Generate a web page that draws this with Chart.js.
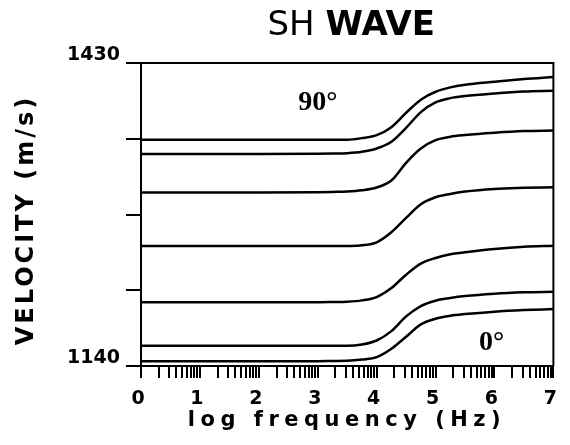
<!DOCTYPE html>
<html>
<head>
<meta charset="utf-8">
<title>SH WAVE</title>
<script src="https://cdn.jsdelivr.net/npm/chart.js@4.4.1/dist/chart.umd.min.js"></script>
<style>
  html, body { margin: 0; padding: 0; background: #fff; }
  #wrap { width: 570px; height: 445px; }
</style>
</head>
<body>
<div id="wrap"><canvas id="c" width="570" height="445"></canvas></div>
<script>
// log10 of frequency (Hz) at which each curve is sampled
const logFreq = [0, 1, 2, 3, 3.25, 3.5, 3.75, 4, 4.25, 4.5, 4.75, 5, 5.25, 5.5, 6, 6.5, 7];

// SH-wave velocity (m/s), from the 90° direction (top) down to 0° (bottom)
const vel90 = [1356.5, 1356.5, 1356.5, 1356.5, 1356.5, 1356.5, 1358.1, 1361.0, 1368.6, 1382.4, 1394.9, 1402.5, 1406.7, 1409.2, 1412.1, 1414.7, 1416.6];
const vel75 = [1343.0, 1343.0, 1343.0, 1343.2, 1343.4, 1343.7, 1345.0, 1348.2, 1354.6, 1368.0, 1383.0, 1392.3, 1396.4, 1398.4, 1400.9, 1402.8, 1403.5];
const vel60 = [1306.0, 1306.0, 1306.0, 1306.3, 1306.6, 1307.0, 1308.2, 1310.8, 1317.5, 1334.5, 1348.2, 1356.2, 1359.4, 1361.0, 1363.2, 1364.8, 1365.4];
const vel45 = [1254.8, 1254.8, 1254.8, 1254.8, 1254.8, 1254.9, 1255.5, 1258.4, 1268.0, 1281.7, 1294.8, 1301.5, 1304.7, 1307.0, 1309.5, 1310.5, 1311.1];
const vel30 = [1201.0, 1201.0, 1201.0, 1201.0, 1201.2, 1201.5, 1202.8, 1206.0, 1214.6, 1227.4, 1238.0, 1243.4, 1246.9, 1248.8, 1252.0, 1254.2, 1255.2];
const vel15 = [1159.4, 1159.4, 1159.4, 1159.4, 1159.4, 1159.4, 1160.6, 1164.4, 1173.4, 1187.5, 1197.4, 1202.5, 1205.0, 1206.9, 1209.2, 1210.5, 1211.1];
const vel0  = [1144.5, 1144.5, 1144.5, 1144.6, 1144.8, 1145.0, 1146.2, 1148.5, 1156.5, 1168.0, 1179.8, 1185.2, 1188.1, 1189.7, 1192.0, 1193.5, 1194.5];

const velocitySeries = [vel90, vel75, vel60, vel45, vel30, vel15, vel0];

// axis ticks
const decadeLabels = ['0', '1', '2', '3', '4', '5', '6', '7'];
const minorMultipliers = [2, 3, 4, 5, 6, 7, 8, 9];
const yTickValues = [1140, 1212.5, 1285, 1357.5, 1430];
const yTickLabels = ['1140', '', '', '', '1430'];

// angle annotations: [log f, velocity, text]
const angleNotes = [[3.0, 1392, '90°'], [5.95, 1162, '0°']];

const titleParts = ['SH ', 'WAVE'];
const yTitle = 'VELOCITY (m/s)';
const xTitle = 'log frequency (Hz)';

const datasets = velocitySeries.map(vals => ({
  data: logFreq.map((x, i) => ({ x: x, y: vals[i] })),
  borderColor: '#000',
  borderWidth: 2.5,
  pointRadius: 0,
  fill: false,
  cubicInterpolationMode: 'monotone'
}));

// frame, titles and angle labels
const decor = {
  id: 'decor',
  afterDraw(chart) {
    const ctx = chart.ctx;
    const a = chart.chartArea;
    const xs = chart.scales.x, ys = chart.scales.y;
    ctx.save();
    ctx.strokeStyle = '#000';
    ctx.lineWidth = 2;
    ctx.beginPath();
    ctx.moveTo(a.left, a.top);
    ctx.lineTo(a.right, a.top);
    ctx.lineTo(a.right, a.bottom);
    ctx.stroke();

    ctx.fillStyle = '#000';
    // title: "SH" light, "WAVE" bold
    ctx.textBaseline = 'alphabetic';
    ctx.textAlign = 'left';
    const f1 = '34px "DejaVu Sans"';
    const f2 = 'bold 34px "DejaVu Sans"';
    ctx.font = f1;
    const w1 = ctx.measureText(titleParts[0]).width;
    ctx.font = f2;
    const w2 = ctx.measureText(titleParts[1]).width;
    let tx = (a.left + a.right) / 2 + 4 - (w1 + w2) / 2;
    ctx.font = f1;
    ctx.fillText(titleParts[0], tx, 35);
    ctx.font = f2;
    ctx.fillText(titleParts[1], tx + w1, 35);

    // x axis title
    ctx.font = 'bold 21px "DejaVu Sans"';
    ctx.letterSpacing = '5.5px';
    ctx.textAlign = 'center';
    ctx.fillText(xTitle, 347, 426);

    // y axis title
    ctx.save();
    ctx.translate(33, 220);
    ctx.rotate(-Math.PI / 2);
    ctx.font = 'bold 24px "DejaVu Sans"';
    ctx.letterSpacing = '3px';
    ctx.textAlign = 'center';
    ctx.fillText(yTitle, 0, 0);
    ctx.restore();
    ctx.letterSpacing = '0px';

    // angle labels
    ctx.font = 'bold 28px "Liberation Serif"';
    ctx.textAlign = 'center';
    ctx.textBaseline = 'middle';
    angleNotes.forEach(([lx, ly, t]) => {
      ctx.fillText(t, xs.getPixelForValue(lx), ys.getPixelForValue(ly));
    });
    ctx.restore();
  }
};

new Chart(document.getElementById('c'), {
  type: 'line',
  data: { datasets },
  options: {
    responsive: false,
    animation: false,
    devicePixelRatio: 1,
    layout: { padding: { top: 63, right: 9, left: 0, bottom: 0 } },
    plugins: { legend: { display: false }, tooltip: { enabled: false }, title: { display: false } },
    scales: {
      x: {
        type: 'linear',
        min: 0,
        max: 7,
        afterBuildTicks(scale) {
          const t = [];
          for (let d = 0; d < decadeLabels.length; d++) {
            t.push({ value: d });
            if (d < decadeLabels.length - 1) {
              minorMultipliers.forEach(m => t.push({ value: d + Math.log10(m) }));
            }
          }
          scale.ticks = t;
        },
        afterFit(scale) { scale.height = 79; },
        ticks: {
          autoSkip: false,
          maxRotation: 0,
          padding: 10,
          labelOffset: -3,
          color: '#000',
          font: { family: 'DejaVu Sans', weight: 'bold', size: 19 },
          callback(v) {
            const i = Math.round(v);
            return Math.abs(v - i) < 1e-6 ? decadeLabels[i] : '';
          }
        },
        grid: { drawOnChartArea: false, drawTicks: true, tickLength: 12, color: '#000', lineWidth: 2 },
        border: { display: true, color: '#000', width: 2 }
      },
      y: {
        type: 'linear',
        min: 1140,
        max: 1430,
        afterBuildTicks(scale) {
          scale.ticks = yTickValues.map(v => ({ value: v }));
        },
        afterFit(scale) { scale.width = 141; },
        ticks: {
          padding: 6,
          labelOffset: -8,
          color: '#000',
          font: { family: 'DejaVu Sans', weight: 'bold', size: 19 },
          callback(v) {
            const i = yTickValues.indexOf(v);
            return i >= 0 ? yTickLabels[i] : '';
          }
        },
        grid: { drawOnChartArea: false, drawTicks: true, tickLength: 15, color: '#000', lineWidth: 2 },
        border: { display: true, color: '#000', width: 2 }
      }
    }
  },
  plugins: [decor]
});
</script>
</body>
</html>
